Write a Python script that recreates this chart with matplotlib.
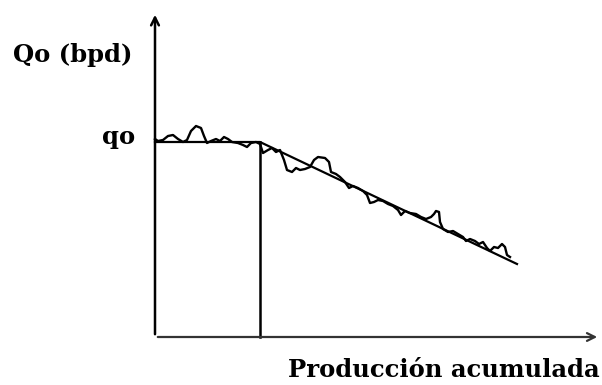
import matplotlib
matplotlib.use("Agg")
import matplotlib.pyplot as plt

# Noisy measured production (cumulative production vs rate), arbitrary units
np_meas = [0, 3, 8, 13, 18, 23, 28, 32, 36, 41, 46, 49, 52, 56, 61, 65, 69, 73, 77, 83,
           88, 92, 96, 101, 105, 108, 113, 117, 121, 125, 129, 132, 137, 141, 145, 150,
           155, 159, 163, 170, 174, 176, 181, 185, 190, 194, 198, 203, 208, 212, 215,
           219, 223, 228, 233, 238, 243, 246, 250, 255, 261, 266, 271, 276, 279, 281,
           284, 285, 288, 293, 298, 303, 308, 311, 315, 320, 324, 328, 332, 335, 339,
           343, 347, 350, 352, 355]
q_meas = [198, 196, 197, 201, 202, 198, 195, 197, 206, 211, 209, 201, 194, 196, 198, 196,
          200, 198, 195, 194, 192, 190, 194, 195, 193, 184, 187, 189, 185, 187, 177, 167,
          165, 169, 167, 168, 170, 177, 180, 179, 175, 165, 163, 160, 155, 149, 151, 149,
          146, 142, 134, 135, 137, 136, 133, 131, 127, 122, 126, 124, 123, 120, 118, 120,
          123, 126, 125, 115, 108, 105, 106, 103, 100, 96, 98, 96, 93, 95, 89, 86, 90,
          89, 93, 90, 82, 80]

# Idealised trend: plateau at qo then linear decline
np_trend = [0, 105, 362]
q_trend = [195, 195, 73]
qo = 195
np_break = 105

fig = plt.figure(figsize=(6.02, 3.85), dpi=100)
ax = fig.add_axes([155 / 602, 48 / 385, 445 / 602, 325 / 385])
ax.set_xlim(0, 445)
ax.set_ylim(0, 325)
ax.axis("off")

# axes with arrows
ax.annotate("", xy=(445, 0), xytext=(0, 0),
            arrowprops=dict(arrowstyle="->", lw=1.6, color="#333333", mutation_scale=14),
            annotation_clip=False)
ax.annotate("", xy=(0, 325), xytext=(0, 0),
            arrowprops=dict(arrowstyle="->", lw=1.8, color="black", mutation_scale=14),
            annotation_clip=False)

ax.plot(np_meas, q_meas, color="black", lw=1.7, solid_joinstyle="round", clip_on=False)
ax.plot(np_trend, q_trend, color="black", lw=1.6, clip_on=False)
ax.plot([np_break, np_break], [0, qo], color="black", lw=1.8, clip_on=False)

fs = 17.5
ax.text(-20, 193, "qo", ha="right", va="baseline", fontsize=fs, fontweight="bold",
        family="DejaVu Serif")
ax.text(-23, 275, "Qo (bpd)", ha="right", va="baseline", fontsize=fs, fontweight="bold",
        family="DejaVu Serif")
ax.text(445, -40, "Producción acumulada", ha="right", va="baseline", fontsize=fs,
        fontweight="bold", family="DejaVu Serif")

fig.savefig("out.png", dpi=100)
